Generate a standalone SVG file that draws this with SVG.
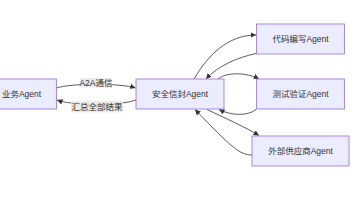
<svg xmlns="http://www.w3.org/2000/svg" width="356" height="200" viewBox="0 0 356 200">
<style>
.node rect{fill:#ECECFF;stroke:#9370DB;stroke-width:0.8}
.node text,.lbl text{font-family:"Liberation Sans","Noto Sans CJK SC",sans-serif;font-size:8.5px;fill:#333;text-anchor:middle;dominant-baseline:central}
.edge{fill:none;stroke:#333;stroke-width:0.8}
.lbl rect{fill:#e8e8e8;opacity:0.85}
</style>
<defs>
<marker id="arr" viewBox="0 0 10 10" refX="10" refY="5" markerWidth="5.5" markerHeight="5.5" markerUnits="userSpaceOnUse" orient="auto">
<path d="M0,0 L10,5 L0,10 z" fill="#333"/>
</marker>
</defs>
<rect width="356" height="200" fill="#ffffff"/>
<g id="connectors">
<path class="edge" d="M56.5,88 C72,83 120,83 135.5,88" marker-end="url(#arr)"/>
<path class="edge" d="M136,100 C120,106 73,106 57,100" marker-end="url(#arr)"/>
<path class="edge" d="M194,79 C208,55 228,35 256,35" marker-end="url(#arr)"/>
<path class="edge" d="M256,53.5 C236,58 218,66 206,79" marker-end="url(#arr)"/>
<path class="edge" d="M218,79 C226,72 246,72 259,79" marker-end="url(#arr)"/>
<path class="edge" d="M256,109.5 C248,116 232,116 219,109.5" marker-end="url(#arr)"/>
<path class="edge" d="M207,109.5 C225,118 245,127 259,135.5" marker-end="url(#arr)"/>
<path class="edge" d="M252,155 C240,155 232,148 195,109.5" marker-end="url(#arr)"/>
<g class="lbl">
<rect x="80" y="78" width="32" height="9.5"/>
<text x="96" y="83">A2A通信</text>
<rect x="71" y="101" width="52" height="11.5"/>
<text x="97" y="107">汇总全部结果</text>
</g>
</g>
<g id="biz" class="node">
<rect x="-48" y="79" width="104.5" height="30"/>
<text x="21.5" y="94">业务Agent</text>
</g>
<g id="envelope" class="node">
<rect x="136" y="79" width="88" height="30"/>
<text x="180" y="94">安全信封Agent</text>
</g>
<g id="coder" class="node">
<rect x="256.5" y="24" width="88" height="30"/>
<text x="300.5" y="39">代码编写Agent</text>
</g>
<g id="tester" class="node">
<rect x="256.5" y="79" width="88" height="30"/>
<text x="300.5" y="94">测试验证Agent</text>
</g>
<g id="vendor" class="node">
<rect x="252" y="136" width="97" height="30"/>
<text x="300.5" y="151">外部供应商Agent</text>
</g>
</svg>
